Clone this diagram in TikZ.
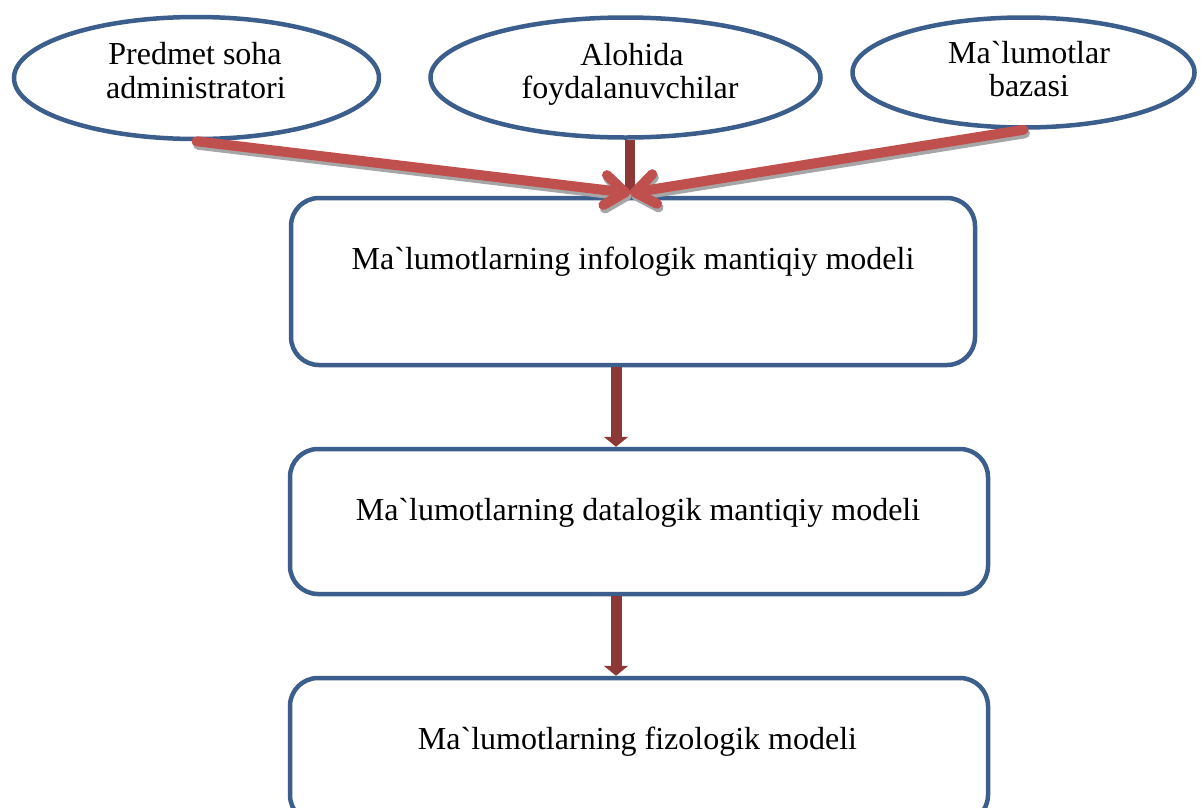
\documentclass[tikz,border=0pt]{standalone}
\usepackage{fontspec}
\setmainfont{Liberation Serif}[Ligatures=TeXOff]
\usetikzlibrary{shapes.geometric,arrows.meta}
\definecolor{frameblue}{HTML}{3B5E8C}
\definecolor{flowred}{HTML}{C0504D}
\definecolor{stemred}{HTML}{8C3836}
\definecolor{shadowgray}{HTML}{A6A6A6}
\begin{document}
\begin{tikzpicture}[x=1pt,y=-1pt,
  src/.style={ellipse, draw=frameblue, line width=4.5pt, inner sep=0pt},
  stage/.style={rectangle, rounded corners=28pt, draw=frameblue, line width=4.5pt},
  caption/.style={anchor=base, inner sep=0pt, font=\fontsize{32}{35}\selectfont},
  barb/.style={line width=10pt, line cap=round,
    -{Straight Barb[length=20pt,width=30pt,round]}},
  feed/.style={barb, draw=flowred},
  feedshadow/.style={barb, draw=shadowgray,
    transform canvas={shift={(1.5pt,-3.5pt)}}},
  stem/.style={draw=stemred, line width=10pt},
  flow/.style={draw=stemred, line width=11pt, -{Triangle[length=10pt,width=24pt]}}
]
\useasboundingbox (0,0) rectangle (1201,807);

% sources
\node[src, minimum width=365pt, minimum height=122pt] (e1) at (196.5,78) {};
\node[src, minimum width=390pt, minimum height=120pt] (e2) at (625.5,77.5) {};
\node[src, minimum width=342pt, minimum height=110pt] (e3) at (1023.5,72.5) {};

\node[caption] (e1a) at (195,64) {Predmet soha};
\node[caption] (e1b) at (196,98) {administratori};
\node[caption] (e2a) at (632,65) {Alohida};
\node[caption] (e2b) at (630,98) {foydalanuvchilar};
\node[caption] (e3a) at (1029,63) {Ma`lumotlar};
\node[caption] (e3b) at (1029,96) {bazasi};

% stages
\node[stage, minimum width=684pt, minimum height=167pt] (b1) at (633,281.5) {};
\node[stage, minimum width=698pt, minimum height=145pt] (b2) at (639,521.5) {};
\node[stage, minimum width=698pt, minimum height=145pt] (b3) at (639,750.5) {};

\node[caption] (t1) at (633,269) {Ma`lumotlarning infologik mantiqiy modeli};
\node[caption] (t2) at (638,520) {Ma`lumotlarning datalogik mantiqiy modeli};
\node[caption] (t3) at (637.5,749) {Ma`lumotlarning fizologik modeli};

% converging inputs
\coordinate (hub) at (630,193);
\coordinate (ax) at (616,0);
\draw[stem] (e2.south -| hub) -- (hub);
\draw[feedshadow] (e1.south) -- (hub);
\draw[feedshadow] (e3.south) -- (hub);
\draw[feed] (e1.south) -- (hub);
\draw[feed] (e3.south) -- (hub);

% stage sequence
\draw[flow] (b1.south -| ax) -- (b2.north -| ax);
\draw[flow] (b2.south -| ax) -- (b3.north -| ax);
\end{tikzpicture}
\end{document}
